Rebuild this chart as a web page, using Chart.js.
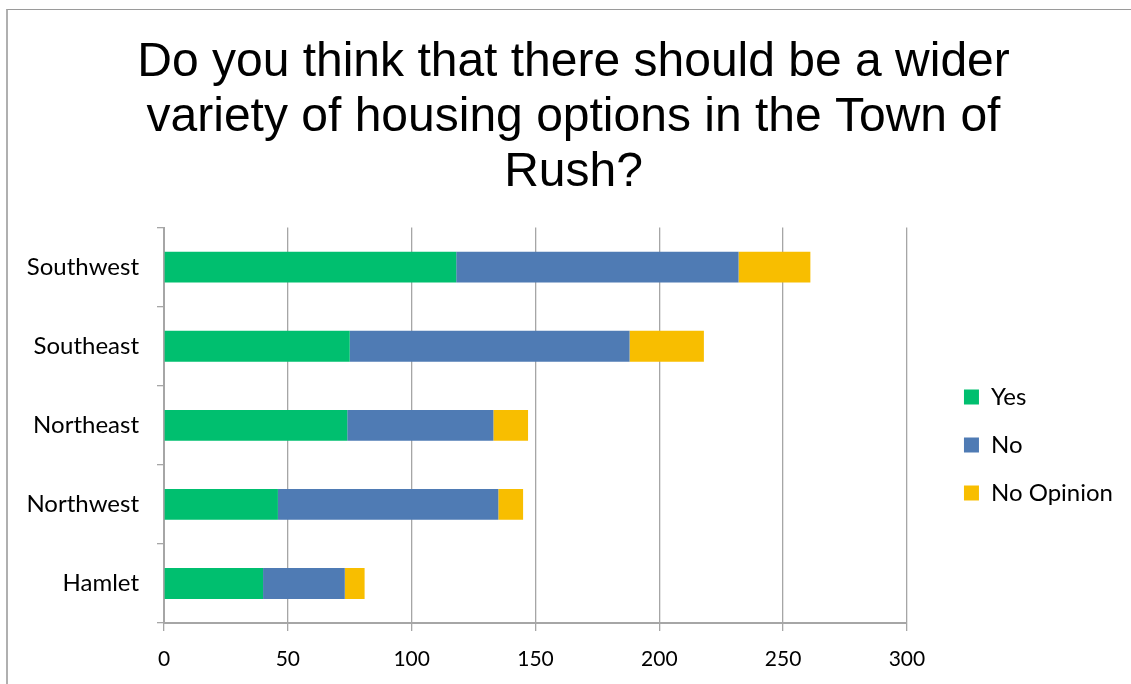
<!DOCTYPE html>
<html>
<head>
<meta charset="utf-8">
<script src="https://cdn.jsdelivr.net/npm/chart.js@4/dist/chart.umd.min.js"></script>
<style>
  html, body { margin: 0; padding: 0; background: #ffffff; overflow: hidden; }
  #frame {
    position: absolute; left: 6px; top: 9px; width: 1200px; height: 760px;
    border-left: 2px solid #b0b0b0; border-top: 1.5px solid #9a9a9a;
    box-sizing: border-box;
  }
  #wrap { position: absolute; left: 0; top: 0; width: 1131px; height: 684px; }
</style>
</head>
<body>
<div id="frame"></div>
<div id="wrap"><canvas id="chart" width="1131" height="684"></canvas></div>
<script>
// Survey regions, listed top to bottom
const regions = ['Southwest', 'Southeast', 'Northeast', 'Northwest', 'Hamlet'];

// Response counts per region
const yesCounts = [118, 75, 74, 46, 40];
const noCounts = [114, 113, 59, 89, 33];
const noOpinionCounts = [29, 30, 14, 10, 8];

// Value axis tick labels
const valueTicks = [0, 50, 100, 150, 200, 250, 300];

const titleLines = [
  'Do you think that there should be a wider',
  'variety of housing options in the Town of',
  'Rush?'
];

const gridGray = '#a6a6a6';
const labelFont = 'Lato, "Open Sans", sans-serif';

// Fixed layout sizes
const PAD = { top: 35, right: 8, bottom: 8, left: 24 };
const CATEGORY_AXIS_WIDTH = 140;
const VALUE_AXIS_HEIGHT = 53;
const LEGEND_GAP = 33;

new Chart(document.getElementById('chart'), {
  type: 'bar',
  data: {
    labels: regions,
    datasets: [
      { label: 'Yes', data: yesCounts, backgroundColor: '#00bf6f' },
      { label: 'No', data: noCounts, backgroundColor: '#4f7bb4' },
      { label: 'No Opinion', data: noOpinionCounts, backgroundColor: '#f8be00' }
    ]
  },
  options: {
    indexAxis: 'y',
    responsive: false,
    animation: false,
    devicePixelRatio: 1,
    datasets: { bar: { categoryPercentage: 1, barPercentage: 0.39 } },
    layout: { padding: PAD },
    plugins: {
      title: {
        display: true,
        text: titleLines,
        color: '#000000',
        font: { family: '"Liberation Sans", Arial, sans-serif', size: 48, weight: 'normal', lineHeight: 1.15 },
        padding: { top: 0, bottom: 27 }
      },
      legend: {
        position: 'right',
        title: {
          display: true,
          text: '',
          font: { size: 10, lineHeight: 1 },
          padding: { top: 169, bottom: 0 }
        },
        labels: {
          color: '#000000',
          boxWidth: 15,
          boxHeight: 15,
          padding: 24,
          font: { family: labelFont, size: 24 }
        }
      },
      tooltip: { enabled: false }
    },
    scales: {
      x: {
        stacked: true,
        min: 0,
        max: 300,
        afterBuildTicks: (axis) => { axis.ticks = valueTicks.map(v => ({ value: v })); },
        afterFit: (axis) => { axis.height = VALUE_AXIS_HEIGHT; },
        grid: { color: gridGray, lineWidth: 1.3, tickLength: 8, drawOnChartArea: true },
        border: { color: gridGray, width: 2 },
        ticks: { color: '#000000', font: { family: labelFont, size: 21 }, padding: 16, maxRotation: 0 }
      },
      y: {
        stacked: true,
        afterFit: (axis) => { axis.width = CATEGORY_AXIS_WIDTH; },
        grid: { drawOnChartArea: false, color: gridGray, lineWidth: 1.3, tickLength: 7, offset: true },
        border: { color: gridGray, width: 2 },
        ticks: { color: '#000000', font: { family: labelFont, size: 24 }, padding: 18 }
      },
      // empty spacer between the plot and the legend
      ySpacer: {
        axis: 'y',
        type: 'linear',
        position: 'right',
        display: true,
        afterFit: (axis) => { axis.width = LEGEND_GAP; },
        grid: { display: false },
        border: { display: false },
        ticks: { display: false }
      }
    }
  }
});
</script>
</body>
</html>
